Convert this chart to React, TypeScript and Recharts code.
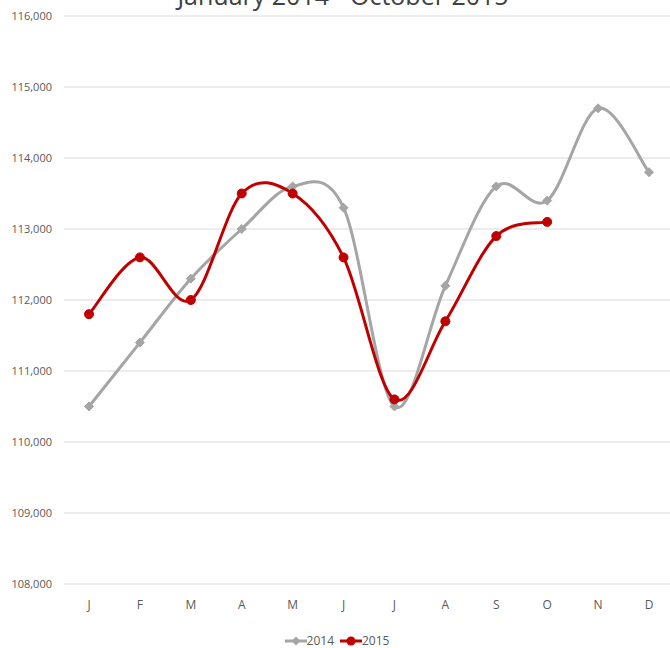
import { CartesianGrid, Legend, Line, LineChart, XAxis, YAxis } from "recharts";

const months = ["J", "F", "M", "A", "M", "J", "J", "A", "S", "O", "N", "D"];
const values2014 = [110500, 111400, 112300, 113000, 113600, 113300, 110500, 112200, 113600, 113400, 114700, 113800];
const values2015 = [111800, 112600, 112000, 113500, 113500, 112600, 110600, 111700, 112900, 113100, null, null];
const yTicks = [108000, 109000, 110000, 111000, 112000, 113000, 114000, 115000, 116000];

const data = months.map((m, i) => ({
  month: m,
  y2014: values2014[i],
  y2015: values2015[i],
}));

const FONT = "'Liberation Sans Narrow', 'Open Sans', sans-serif";
const GRAY = "#A5A5A5";
const RED = "#C00000";

// Excel style smoothing (catmull-rom, tension 1/6)
const excelCurve = (context: any) => {
  let pts: number[][] = [];
  return {
    areaStart() {},
    areaEnd() {},
    lineStart() {
      pts = [];
    },
    point(x: number, y: number) {
      pts.push([+x, +y]);
    },
    lineEnd() {
      if (!pts.length) return;
      context.moveTo(pts[0][0], pts[0][1]);
      for (let i = 0; i < pts.length - 1; i++) {
        const p0 = pts[i - 1] || pts[i];
        const p1 = pts[i];
        const p2 = pts[i + 1];
        const p3 = pts[i + 2] || pts[i + 1];
        context.bezierCurveTo(
          p1[0] + (p2[0] - p0[0]) / 6,
          p1[1] + (p2[1] - p0[1]) / 6,
          p2[0] - (p3[0] - p1[0]) / 6,
          p2[1] - (p3[1] - p1[1]) / 6,
          p2[0],
          p2[1]
        );
      }
    },
  };
};

const Diamond = (props: any) => {
  const { cx, cy, value } = props;
  if (value == null || cx == null) return null;
  const s = 4.5;
  return (
    <path
      d={`M${cx},${cy - s}L${cx + s},${cy}L${cx},${cy + s}L${cx - s},${cy}Z`}
      fill={GRAY}
      stroke={GRAY}
    />
  );
};

const Circle = (props: any) => {
  const { cx, cy, value } = props;
  if (value == null || cx == null) return null;
  return <circle cx={cx} cy={cy} r={4.5} fill={RED} stroke={RED} />;
};

const renderLegend = () => (
  <div
    style={{
      display: "flex",
      justifyContent: "center",
      alignItems: "center",
      gap: 6,
      fontFamily: FONT,
      fontSize: 12,
      color: "#595959",
    }}
  >
    <div style={{ display: "flex", alignItems: "center" }}>
      <svg width={22} height={10}>
        <line x1={0} y1={5} x2={22} y2={5} stroke={GRAY} strokeWidth={3} />
        <path d="M11,0.5L15.5,5L11,9.5L6.5,5Z" fill={GRAY} />
      </svg>
      <span>2014</span>
    </div>
    <div style={{ display: "flex", alignItems: "center" }}>
      <svg width={22} height={10}>
        <line x1={0} y1={5} x2={22} y2={5} stroke={RED} strokeWidth={3} />
        <circle cx={11} cy={5} r={4.5} fill={RED} />
      </svg>
      <span>2015</span>
    </div>
  </div>
);

export default function App() {
  return (
    <div
      style={{
        position: "absolute",
        left: 0,
        top: 0,
        width: 670,
        height: 648,
        overflow: "hidden",
        background: "#fff",
      }}
    >
      <div
        style={{
          position: "absolute",
          left: 0,
          width: 686,
          top: -20,
          textAlign: "center",
          fontFamily: FONT,
          fontSize: 25,
          color: "#404040",
          lineHeight: "30px",
        }}
      >
        January 2014 - October 2015
      </div>
      <LineChart
        width={674}
        height={648}
        data={data}
        margin={{ top: 16, right: 0, bottom: 0, left: 0 }}
      >
        <CartesianGrid vertical={false} stroke="#D9D9D9" strokeWidth={1} />
        <XAxis
          dataKey="month"
          axisLine={false}
          tickLine={false}
          tickSize={0}
          tickMargin={16}
          height={48}
          interval={0}
          padding={{ left: 25, right: 25 }}
          tick={{ fill: "#595959", fontSize: 12, fontFamily: FONT }}
        />
        <YAxis
          domain={[108000, 116000]}
          ticks={yTicks}
          width={64}
          axisLine={false}
          tickLine={false}
          tickSize={0}
          tickMargin={12}
          tickFormatter={(v: number) => v.toLocaleString("en-US")}
          tick={{ fill: "#595959", fontSize: 11, fontFamily: FONT }}
        />
        <Legend verticalAlign="bottom" height={16} content={renderLegend} />
        <Line
          dataKey="y2014"
          name="2014"
          type={excelCurve as any}
          stroke={GRAY}
          strokeWidth={3}
          dot={<Diamond />}
          activeDot={false}
          isAnimationActive={false}
        />
        <Line
          dataKey="y2015"
          name="2015"
          type={excelCurve as any}
          stroke={RED}
          strokeWidth={3}
          dot={<Circle />}
          activeDot={false}
          isAnimationActive={false}
        />
      </LineChart>
    </div>
  );
}
